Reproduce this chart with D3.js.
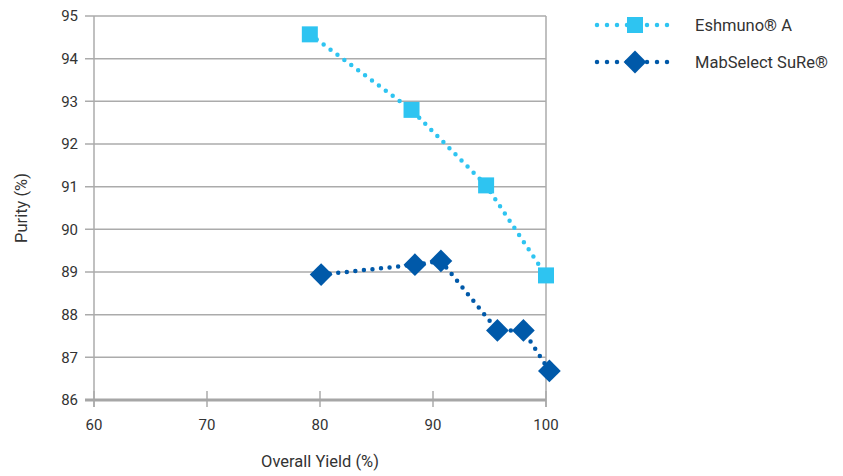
<!DOCTYPE html>
<html>
<head>
<meta charset="utf-8">
<script src="https://cdn.jsdelivr.net/npm/d3@7"></script>
<style>
  body { margin: 0; background: #fff; }
  text { font-family: Roboto, "Open Sans", sans-serif; fill: #333; }
</style>
</head>
<body>
<div id="chart"></div>
<script>
// data
var seriesNames = ["Eshmuno\u00ae A", "MabSelect SuRe\u00ae"]
var eshmunoYield = [79.1, 88.1, 94.7, 100.0]
var eshmunoPurity = [94.57, 92.8, 91.03, 88.92]
var mabYield = [80.1, 88.4, 90.7, 95.7, 98.0, 100.3]
var mabPurity = [88.94, 89.17, 89.26, 87.63, 87.63, 86.68]
var xTicks = [60, 70, 80, 90, 100]
var yTicks = [86, 87, 88, 89, 90, 91, 92, 93, 94, 95]
var colors = ["#2ec4f1", "#0059a9"]

var W = 843, H = 476
var margin = {top: 16, right: 297, bottom: 76, left: 94}

var svg = d3.select("#chart").append("svg")
    .attr("width", W).attr("height", H)

var x = d3.scaleLinear().domain([60, 100]).range([margin.left, W - margin.right])
var y = d3.scaleLinear().domain([86, 95]).range([H - margin.bottom, margin.top])

// horizontal grid
svg.append("g").selectAll("line")
    .data(yTicks.slice(1))
  .enter().append("line")
    .attr("x1", x(60) - 9).attr("x2", x(100))
    .attr("y1", function(d) { return y(d) }).attr("y2", function(d) { return y(d) })
    .attr("stroke", "#ababab").attr("stroke-width", 1.5)

// left and right frame
svg.append("line")
    .attr("x1", x(60)).attr("x2", x(60)).attr("y1", y(95)).attr("y2", y(86) + 7)
    .attr("stroke", "#ababab").attr("stroke-width", 1.5)
svg.append("line")
    .attr("x1", x(100)).attr("x2", x(100)).attr("y1", y(95)).attr("y2", y(86) + 7)
    .attr("stroke", "#ababab").attr("stroke-width", 1.5)

// x ticks
svg.append("g").selectAll("line")
    .data(xTicks)
  .enter().append("line")
    .attr("x1", function(d) { return x(d) }).attr("x2", function(d) { return x(d) })
    .attr("y1", y(86) - 9).attr("y2", y(86) + 7)
    .attr("stroke", "#ababab").attr("stroke-width", 1.5)

// x axis line
svg.append("line")
    .attr("x1", x(60) - 9).attr("x2", x(100))
    .attr("y1", y(86)).attr("y2", y(86))
    .attr("stroke", "#a6a6a6").attr("stroke-width", 3)

// tick labels
svg.append("g").selectAll("text")
    .data(yTicks)
  .enter().append("text")
    .attr("x", x(60) - 16).attr("y", function(d) { return y(d) })
    .attr("dy", "0.36em").attr("text-anchor", "end")
    .style("font-size", "15px")
    .text(function(d) { return d })

svg.append("g").selectAll("text")
    .data(xTicks)
  .enter().append("text")
    .attr("x", function(d) { return x(d) }).attr("y", y(86) + 30)
    .attr("text-anchor", "middle")
    .style("font-size", "15px")
    .text(function(d) { return d })

// axis titles
svg.append("text")
    .attr("x", (x(60) + x(100)) / 2).attr("y", 467)
    .attr("text-anchor", "middle")
    .style("font-size", "16.5px")
    .text("Overall Yield (%)")
svg.append("text")
    .attr("transform", "translate(27," + ((y(86) + y(95)) / 2) + ") rotate(-90)")
    .attr("text-anchor", "middle")
    .style("font-size", "16.5px")
    .text("Purity (%)")

var line = d3.line()
    .x(function(d) { return x(d[0]) })
    .y(function(d) { return y(d[1]) })

var series = [
    { name: seriesNames[0], color: colors[0], shape: d3.symbolSquare, size: 256,
      pts: d3.zip(eshmunoYield, eshmunoPurity) },
    { name: seriesNames[1], color: colors[1], shape: d3.symbolDiamond2, size: 330,
      pts: d3.zip(mabYield, mabPurity) }
]

series.forEach(function(s) {
    svg.append("path")
        .attr("d", line(s.pts))
        .attr("fill", "none")
        .attr("stroke", s.color)
        .attr("stroke-width", 4.5)
        .attr("stroke-linecap", "round")
        .attr("stroke-dasharray", "0 8.6")
    svg.append("g").selectAll("path")
        .data(s.pts)
      .enter().append("path")
        .attr("d", d3.symbol().type(s.shape).size(s.size))
        .attr("transform", function(d) { return "translate(" + x(d[0]) + "," + y(d[1]) + ")" })
        .attr("fill", s.color)
})

// legend
var legend = svg.append("g")
series.forEach(function(s, i) {
    var ly = 25 + i * 37
    legend.append("line")
        .attr("x1", 597).attr("x2", 674).attr("y1", ly).attr("y2", ly)
        .attr("stroke", s.color).attr("stroke-width", 4.5)
        .attr("stroke-linecap", "round").attr("stroke-dasharray", "0 10")
    legend.append("path")
        .attr("d", d3.symbol().type(s.shape).size(s.size))
        .attr("transform", "translate(635," + ly + ")")
        .attr("fill", s.color)
    legend.append("text")
        .attr("x", 695).attr("y", ly).attr("dy", "0.36em")
        .style("font-size", "16.5px")
        .text(s.name)
})
</script>
</body>
</html>
